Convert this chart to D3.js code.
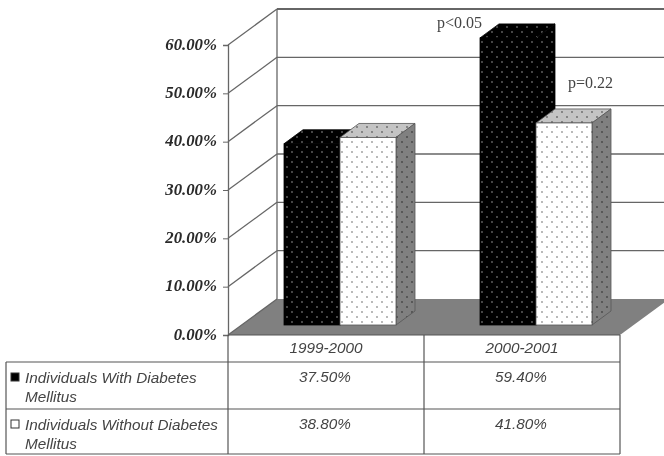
<!DOCTYPE html>
<html>
<head>
<meta charset="utf-8">
<script src="https://cdn.jsdelivr.net/npm/d3@7"></script>
<style>
  body { margin: 0; background: #fff; }
  svg { display: block; filter: blur(0.55px); }
  text { fill: #333; }
  .cell { font: italic 15.3px "Liberation Sans", Arial, sans-serif; fill: #444; }
  .ylab { font: italic bold 16.8px "Liberation Serif", serif; fill: #2a2a2a; }
  .note { font: 16px "Liberation Serif", serif; fill: #444; }
</style>
</head>
<body>
<svg id="chart" width="664" height="456"></svg>
<script>
// values
const categories = ['1999-2000', '2000-2001'];
const withDiabetes = [37.5, 59.4];
const withoutDiabetes = [38.8, 41.8];
const yTicks = [0, 10, 20, 30, 40, 50, 60];
const seriesNames = ['Individuals With Diabetes', 'Individuals Without Diabetes'];
const notes = [
  { text: 'p<0.05', cat: 1, value: 59.4 },
  { text: 'p=0.22', cat: 1, value: 41.8 }
];

const svg = d3.select('#chart');

// oblique offset of the back wall, and of the bars within the floor
const depthX = 49, depthY = -36;
const barShiftX = 14, barShiftY = -10, barDepthX = 19, barDepthY = -14;

const y = d3.scaleLinear().domain([0, 60]).range([335, 45]);
const x = d3.scaleBand().domain(categories).range([228, 620]);
const xSeries = d3.scaleBand().domain([0, 1]).range([42, 154]);

// dotted fills
const defs = svg.append('defs');
function addPattern(id, bg, dot) {
  const p = defs.append('pattern').attr('id', id)
    .attr('patternUnits', 'userSpaceOnUse').attr('width', 10).attr('height', 10);
  p.append('rect').attr('width', 10).attr('height', 10).attr('fill', bg);
  p.append('circle').attr('cx', 2).attr('cy', 2).attr('r', 0.9).attr('fill', dot);
  p.append('circle').attr('cx', 7).attr('cy', 7).attr('r', 0.9).attr('fill', dot);
}
addPattern('blackDots', '#000', '#666');
addPattern('whiteDots', '#fff', '#999');
addPattern('topDots', '#c4c4c4', '#666');
addPattern('sideDots', '#808080', '#444');

const line = '#666';

// floor
svg.append('path')
  .attr('d', d3.line()([
    [x.range()[0], y(0)], [x.range()[1], y(0)],
    [x.range()[1] + depthX, y(0) + depthY], [x.range()[0] + depthX, y(0) + depthY]
  ]) + 'Z')
  .attr('fill', '#808080');

// walls
const grid = svg.append('g').attr('fill', 'none').attr('stroke', line).attr('stroke-width', 1.3);
yTicks.forEach(t => {
  grid.append('line')
    .attr('x1', 228).attr('y1', y(t))
    .attr('x2', 228 + depthX).attr('y2', y(t) + depthY);
  if (t > 0) {
    grid.append('line')
      .attr('x1', 228 + depthX).attr('y1', y(t) + depthY)
      .attr('x2', 664).attr('y2', y(t) + depthY)
      .attr('stroke', t === 60 ? '#333' : line);
  }
});
grid.append('line')
  .attr('x1', 228 + depthX).attr('x2', 228 + depthX)
  .attr('y1', y(60) + depthY).attr('y2', y(0) + depthY);

// bars
function drawBar(cat, s, value, front, top, side, edge) {
  const x0 = x(cat) + xSeries(s) + barShiftX;
  const w = xSeries.bandwidth();
  const yb = y(0) + barShiftY, yt = y(value) + barShiftY;
  const g = svg.append('g').attr('stroke', edge).attr('stroke-width', 0.8);
  g.append('path').attr('fill', `url(#${top})`)
    .attr('d', d3.line()([[x0, yt], [x0 + w, yt], [x0 + w + barDepthX, yt + barDepthY], [x0 + barDepthX, yt + barDepthY]]) + 'Z');
  g.append('path').attr('fill', `url(#${side})`)
    .attr('d', d3.line()([[x0 + w, yt], [x0 + w + barDepthX, yt + barDepthY], [x0 + w + barDepthX, yb + barDepthY], [x0 + w, yb]]) + 'Z');
  g.append('rect').attr('fill', `url(#${front})`)
    .attr('x', x0).attr('y', yt).attr('width', w).attr('height', yb - yt);
}
categories.forEach((c, i) => {
  drawBar(c, 0, withDiabetes[i], 'blackDots', 'blackDots', 'blackDots', '#000');
  drawBar(c, 1, withoutDiabetes[i], 'whiteDots', 'topDots', 'sideDots', '#555');
});

// front axis
const axis = svg.append('g').attr('transform', 'translate(228,0)')
  .call(d3.axisLeft(y).tickValues(yTicks).tickSize(5).tickPadding(6)
    .tickFormat(d => d3.format('.2f')(d) + '%'));
axis.select('.domain').attr('stroke', line).attr('stroke-width', 1.3);
axis.selectAll('.tick line').attr('stroke', line);
axis.selectAll('text').attr('class', 'ylab').attr('dy', '0.25em');

// data table
const table = svg.append('g').attr('stroke', '#555').attr('stroke-width', 1.2);
const rowLines = [335, 362, 409, 454];
rowLines.forEach((ry, i) => {
  table.append('line').attr('x1', i === 0 ? 228 : 6).attr('x2', 620).attr('y1', ry).attr('y2', ry);
});
[[6, 362], [228, 335], [424, 335], [620, 335]].forEach(([vx, top]) => {
  table.append('line').attr('x1', vx).attr('x2', vx).attr('y1', top).attr('y2', 454);
});

const center = c => x(c) + x.bandwidth() / 2;
svg.selectAll('.cat').data(categories).join('text')
  .attr('class', 'cell').attr('text-anchor', 'middle')
  .attr('x', center).attr('y', 353).text(d => d);

[withDiabetes, withoutDiabetes].forEach((vals, s) => {
  const rowTop = rowLines[s + 1];
  svg.selectAll(null).data(vals).join('text')
    .attr('class', 'cell').attr('text-anchor', 'middle')
    .attr('x', (d, i) => center(categories[i]) - 1).attr('y', rowTop + 20)
    .text(d => d3.format('.2f')(d) + '%');
  svg.append('rect').attr('x', 11).attr('y', rowTop + 11).attr('width', 8).attr('height', 8)
    .attr('fill', s === 0 ? '#000' : '#fff').attr('stroke', '#333');
  svg.append('text').attr('class', 'cell').attr('x', 25).attr('y', rowTop + 21).text(seriesNames[s]);
  svg.append('text').attr('class', 'cell').attr('x', 25).attr('y', rowTop + 40).text('Mellitus');
});

// p-value notes
svg.append('text').attr('class', 'note').attr('text-anchor', 'end')
  .attr('x', center(categories[notes[0].cat]) - 40).attr('y', y(notes[0].value) - 20).text(notes[0].text);
svg.append('text').attr('class', 'note')
  .attr('x', center(categories[notes[1].cat]) + 46).attr('y', y(notes[1].value) - 45).text(notes[1].text);
</script>
</body>
</html>
